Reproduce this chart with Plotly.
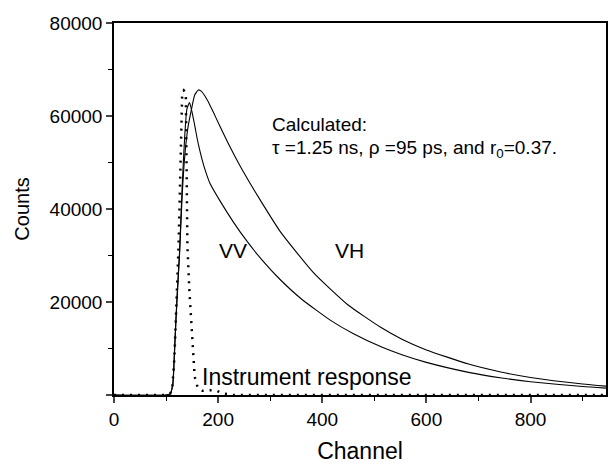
import plotly.graph_objects as go

# Instrument response (dotted)
irf_ch = [0, 100, 108, 112, 116, 120, 124, 127, 129, 131, 134, 137, 138, 139, 140, 141, 145, 149, 152, 155, 161, 170, 180, 195, 210, 230, 945]
irf_counts = [0, 0, 300, 1500, 8000, 19000, 32000, 46000, 58000, 65000, 65500, 65000, 64000, 55000, 45000, 32000, 22000, 15400, 8100, 3900, 1500, 900, 1000, 1000, 300, 0, 0]

# VV decay
vv_ch = [0, 100, 108, 113, 116, 119, 122, 126, 131, 136, 140, 145, 150, 155, 160, 164, 170, 175, 184, 203, 230, 255, 285, 319, 360, 416, 460, 513, 553, 600, 681, 745, 800, 900, 945]
vv_counts = [0, 0, 300, 2500, 9000, 16500, 23000, 31000, 45000, 56000, 61500, 62900, 60800, 58000, 55000, 53000, 50300, 48400, 45600, 41860, 37080, 33130, 28950, 24840, 20650, 16050, 13170, 10370, 8660, 7010, 4870, 3650, 2850, 1820, 1480]

# VH decay
vh_ch = [0, 100, 108, 113, 116, 119, 122, 126, 131, 136, 142, 148, 155, 162, 168, 180, 190, 203, 220, 242, 261, 281, 319, 384, 449, 513, 553, 600, 681, 745, 800, 900, 945]
vh_counts = [0, 0, 300, 2300, 8500, 16000, 22500, 30500, 43000, 51500, 57500, 61000, 64500, 65600, 65300, 63300, 61000, 57900, 54000, 49300, 45600, 41900, 35200, 26200, 19400, 14500, 12000, 9700, 6650, 4900, 3780, 2370, 1900]

x_ticks = [0, 200, 400, 600, 800]
y_ticks = [0, 20000, 40000, 60000, 80000]
y_ticktext = ["", "20000", "40000", "60000", "80000"]

FONT = "Liberation Sans, Arial, sans-serif"

fig = go.Figure()
fig.add_trace(go.Scatter(x=vv_ch, y=vv_counts, mode="lines",
                         line=dict(color="black", width=1.1, shape="spline", smoothing=0.5)))
fig.add_trace(go.Scatter(x=vh_ch, y=vh_counts, mode="lines",
                         line=dict(color="black", width=1.1, shape="spline", smoothing=0.5)))
fig.add_trace(go.Scatter(x=irf_ch, y=irf_counts, mode="lines",
                         line=dict(color="black", width=2.5, dash="2px,6px")))

annos = [
    dict(x=300, y=58200, text="Calculated:", size=19),
    dict(x=300, y=53000, text="τ =1.25 ns, ρ =95 ps, and r<sub>0</sub>=0.37.", size=19),
    dict(x=197, y=31000, text="VV", size=21),
    dict(x=421, y=31000, text="VH", size=21),
    dict(x=165, y=3900, text="Instrument response", size=23),
]
for a in annos:
    fig.add_annotation(x=a["x"], y=a["y"], text=a["text"], showarrow=False,
                       xanchor="left", yanchor="middle",
                       font=dict(family=FONT, size=a["size"], color="black"))

fig.update_layout(
    width=608, height=464,
    margin=dict(l=114, r=2, t=23, b=69),
    paper_bgcolor="white", plot_bgcolor="white",
    showlegend=False,
    font=dict(family=FONT, size=19, color="black"),
)
fig.update_xaxes(range=[0, 945], tickvals=x_ticks, ticks="outside", ticklen=6, tickwidth=1.5,
                 showline=True, linewidth=1.5, linecolor="black", mirror=True,
                 showgrid=False, zeroline=False, automargin=False,
                 minor=dict(dtick=100, tick0=0, ticks="outside", ticklen=4, tickwidth=1.2, tickcolor="black", showgrid=False),
                 title=dict(text="Channel", font=dict(size=23), standoff=17),
                 tickfont=dict(size=19))
fig.update_yaxes(range=[0, 80000], tickvals=y_ticks, ticktext=y_ticktext, ticks="outside", ticklen=6, tickwidth=1.5,
                 showline=True, linewidth=1.5, linecolor="black", mirror=True,
                 showgrid=False, zeroline=False, automargin=False,
                 minor=dict(dtick=10000, tick0=0, ticks="outside", ticklen=4, tickwidth=1.2, tickcolor="black", showgrid=False),
                 title=dict(text="Counts", font=dict(size=20), standoff=15),
                 tickfont=dict(size=19))

fig.write_html("out.html", config={"displayModeBar": False},
               post_script="document.body.style.margin='0';document.body.style.overflow='hidden';")
